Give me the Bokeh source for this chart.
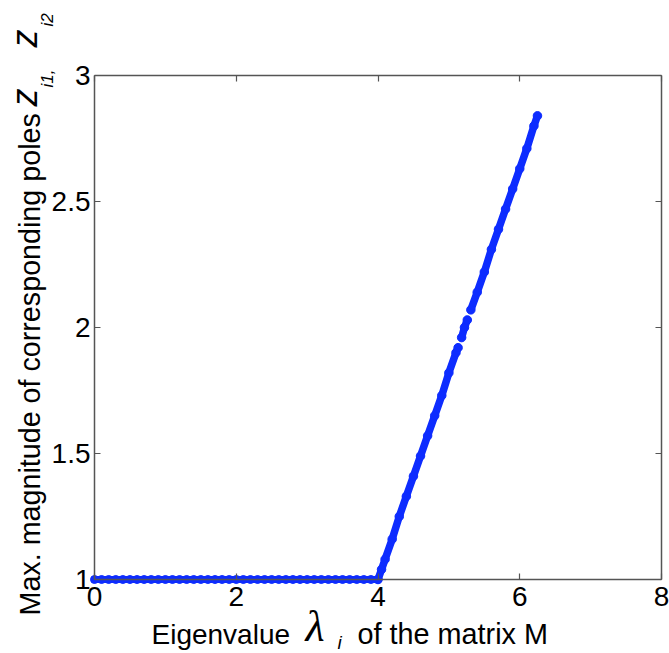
import math
from bokeh.plotting import figure
from bokeh.models import LinearAxis, FixedTicker, Range1d
from bokeh.core.properties import value
from bokeh.embed import file_html
from bokeh.resources import INLINE

# ---- data ----
lam_flat = [0.00, 0.10, 0.20, 0.30, 0.40, 0.50, 0.60, 0.70, 0.80, 0.90,
            1.00, 1.10, 1.20, 1.30, 1.40, 1.50, 1.60, 1.70, 1.80, 1.90,
            2.00, 2.10, 2.20, 2.30, 2.40, 2.50, 2.60, 2.70, 2.80, 2.90,
            3.00, 3.10, 3.20, 3.30, 3.40, 3.50, 3.60, 3.70, 3.80, 3.90, 4.00]
mag_flat = [1.0] * len(lam_flat)

nan = float("nan")
lam_rise = [4.00, 4.05, 4.10, 4.20, 4.30, 4.40, 4.50, 4.60, 4.70, 4.80, 4.90,
            5.00, 5.10, 5.13, nan, 5.18, 5.22, 5.26, nan, 5.31, 5.40, 5.50,
            5.60, 5.70, 5.80, 5.90, 6.00, 6.10, 6.20, 6.25]
mag_rise = [1.00, 1.04, 1.08, 1.16, 1.25, 1.33, 1.41, 1.49, 1.57, 1.65, 1.73,
            1.82, 1.90, 1.92, nan, 1.96, 2.00, 2.03, nan, 2.07, 2.14, 2.22,
            2.31, 2.39, 2.47, 2.55, 2.63, 2.71, 2.80, 2.84]

x_ticks = [0, 2, 4, 6, 8]
y_ticks = [1, 1.5, 2, 2.5, 3]
y_tick_labels = ["1", "1.5", "2", "2.5", "3"]

x_title = ["Eigenvalue", "λ", "i", "of the matrix M"]
y_title = ["Max. magnitude of corresponding poles", "z", "i1,", "z", "i2"]

# ---- layout (page pixels) ----
W, H = 669, 653
FL, FR, FT, FB = 94, 661, 75, 579      # where the axes box lies
X0, X1, Y0, Y1 = 0, 8, 1, 3
BLUE = "#0d2cff"
AX = "#555555"
FONT = "Liberation Sans"
BASE_SHIFT = 0.36   # measured offset of the rendered baseline, in em


def dx(px):
    return X0 + (px - FL) / (FR - FL) * (X1 - X0)


def dy(py):
    return Y0 + (FB - py) / (FB - FT) * (Y1 - Y0)


# the plotting frame covers the whole page; the axes sit at fixed locations
p = figure(width=W, height=H,
           x_range=Range1d(dx(0), dx(W)), y_range=Range1d(dy(H), dy(0)),
           output_backend="svg", toolbar_location=None, min_border=0)
p.title.visible = False
p.background_fill_color = "white"
p.border_fill_color = "white"
p.outline_line_color = None
p.xgrid.visible = False
p.ygrid.visible = False


def style_axis(ax, ticks, loc, bounds, labels=True):
    ax.ticker = FixedTicker(ticks=ticks)
    ax.fixed_location = loc
    ax.bounds = bounds
    ax.major_tick_in = 6
    ax.major_tick_out = 0
    ax.minor_tick_line_color = None
    ax.axis_line_color = AX
    ax.axis_line_width = 1.5
    ax.major_tick_line_color = AX
    ax.major_tick_line_width = 1.2
    ax.axis_label = None
    if labels:
        ax.major_label_text_font = FONT
        ax.major_label_text_font_size = "28px"
        ax.major_label_text_color = "black"
    else:
        ax.major_label_text_font_size = "0px"
        ax.major_label_overrides = {t: "" for t in ticks}
        ax.major_label_standoff = 0


style_axis(p.xaxis[0], x_ticks, Y0, (X0, X1))
style_axis(p.yaxis[0], y_ticks, X0, (Y0, Y1))
p.xaxis.major_label_standoff = 7
p.yaxis.major_label_standoff = 4
p.yaxis.major_label_overrides = {t: s for t, s in zip(y_ticks, y_tick_labels)}

top_ax = LinearAxis()
style_axis(top_ax, x_ticks, Y1, (X0, X1), labels=False)
p.add_layout(top_ax, "above")
right_ax = LinearAxis()
style_axis(right_ax, y_ticks, X1, (Y0, Y1), labels=False)
p.add_layout(right_ax, "right")

# ---- data marks ----
p.line(lam_flat, mag_flat, line_color=BLUE, line_width=7, line_cap="round")
p.scatter(lam_flat, mag_flat, size=8, marker="circle", fill_color=BLUE,
          line_color=BLUE)
p.line(lam_rise, mag_rise, line_color=BLUE, line_width=7.5, line_cap="round")
p.scatter(lam_rise, mag_rise, size=8.5, marker="circle", fill_color=BLUE,
          line_color=BLUE)


# ---- axis titles ----
def put(px, py, text, size, style="normal", font=FONT, angle=0.0):
    # (px, py): where the text's baseline starts, in page pixels
    s = BASE_SHIFT * size
    if angle:
        px -= s
    else:
        py -= s
    p.text(x=[dx(px)], y=[dy(py)], text=[text],
           text_font=value(font), text_font_size=value(f"{size}px"),
           text_font_style=value(style), text_color="black",
           text_align=value("left"), text_baseline=value("alphabetic"),
           angle=angle)


put(151, 644, x_title[0], 28)
put(305, 642, x_title[1], 44, "italic", "Liberation Serif")
put(337, 649, x_title[2], 19, "italic")
put(357, 644, x_title[3], 28.8)

R = math.pi / 2
put(40, 615, y_title[0], 28.7, angle=R)
put(37, 106, y_title[1], 36, "italic", angle=R)
put(53, 87, y_title[2], 17, "italic", angle=R)
put(37, 47, y_title[3], 36, "italic", angle=R)
put(53, 26, y_title[4], 17, "italic", angle=R)

open("out.html", "w").write(file_html(p, INLINE))
